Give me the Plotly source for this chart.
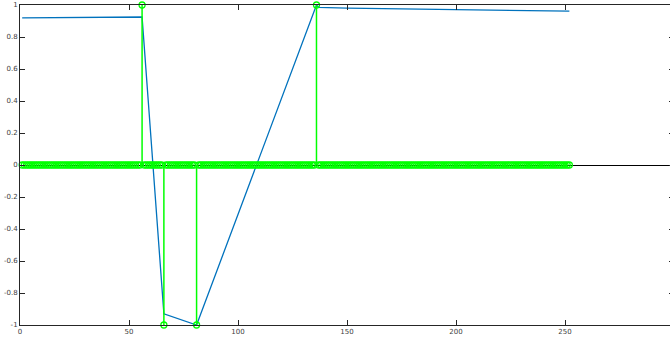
import plotly.graph_objects as go

# blue signal, vertices
sig_x = [1, 56, 66, 81, 136, 137, 150, 200, 252]
sig_y = [0.92, 0.925, -0.93, -1.0, 1.0, 0.985, 0.98, 0.97, 0.962]

# stem plot: samples 1..252, all zero except these
n_samples = 252
spike_x = [56, 66, 81, 136]
spike_y = [1, -1, -1, 1]

x_ticks = [0, 50, 100, 150, 200, 250, 300]
y_ticks = [-1, -0.8, -0.6, -0.4, -0.2, 0, 0.2, 0.4, 0.6, 0.8, 1]

stem_x = list(range(1, n_samples + 1))
stem_y = [0.0] * n_samples
for sx, sy in zip(spike_x, spike_y):
    stem_y[sx - 1] = sy

line_x, line_y = [], []
for sx, sy in zip(stem_x, stem_y):
    if sy != 0:
        line_x += [sx, sx, None]
        line_y += [0, sy, None]

fig = go.Figure()
fig.add_trace(go.Scatter(x=sig_x, y=sig_y, mode="lines",
                         line=dict(color="#0072BD", width=1.3)))
fig.add_trace(go.Scatter(x=line_x, y=line_y, mode="lines",
                         line=dict(color="#00FF00", width=1.5)))
fig.add_trace(go.Scatter(x=stem_x, y=stem_y, mode="markers", cliponaxis=False,
                         marker=dict(symbol="circle-open", size=6, color="#00FF00",
                                     line=dict(width=1.3, color="#00FF00"))))

axis_style = dict(showgrid=False, showline=True, linecolor="#262626", linewidth=1,
                  mirror="ticks", ticks="inside", ticklen=5, tickcolor="#262626",
                  automargin=False,
                  tickfont=dict(family="DejaVu Sans", size=7, color="#404040"))
fig.update_xaxes(range=[0, 300], tickvals=x_ticks, zeroline=False, **axis_style)
fig.update_yaxes(range=[-1, 1], tickvals=y_ticks, ticktext=[str(v) for v in y_ticks],
                 zeroline=True, zerolinecolor="#000000", zerolinewidth=1, **axis_style)
# plot area runs a little past the window on the right, as in the original
fig.update_layout(width=680, height=338, autosize=False, showlegend=False,
                  plot_bgcolor="white", paper_bgcolor="white",
                  margin=dict(l=20, r=6, t=5, b=13))
fig.write_html("out.html", config={"displayModeBar": False},
               post_script="document.body.style.margin='0';document.body.style.overflow='hidden';")
